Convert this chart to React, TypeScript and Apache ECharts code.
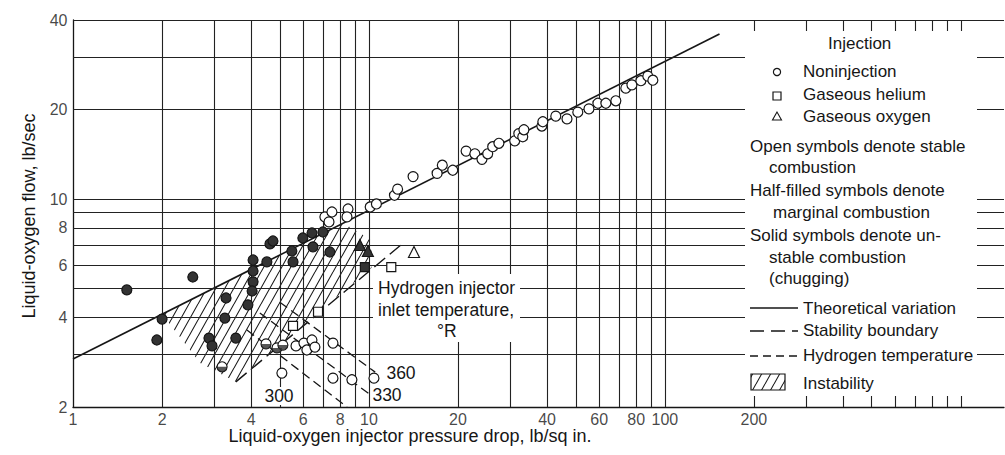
import React, { useEffect, useRef } from "react";
import * as echarts from "echarts";

// ---- axis / grid values ----
const xGridValues = [2, 3, 4, 5, 6, 7, 8, 9, 10, 20, 30, 40, 50, 60, 70, 80, 90, 100, 200, 300, 400, 500, 600, 700, 800, 900, 1000];
const yGridValues = [3, 4, 5, 6, 7, 8, 9, 10, 20, 30, 40];
const xTickLabels = [1, 2, 4, 6, 8, 10, 20, 40, 60, 80, 100, 200];
const yTickLabels = [2, 4, 6, 8, 10, 20, 40];

// ---- lines ----
const theoretical = [[1, 2.9], [153, 35.9]];
const stabilityBoundary = [[3.55, 2.43], [13.2, 7.18]];
const h2Temp300 = [[3.87, 3.63], [8.43, 2.0]];
const h2Temp330 = [[4.28, 4.14], [10.1, 2.2]];
const h2Temp360 = [[5.0, 4.5], [10.5, 2.62]];
const instabilityRegion = [[2.0, 4.1], [8.2, 8.3], [10.2, 7.29], [10.2, 5.87], [3.55, 2.43], [2.69, 2.81]];

// ---- data points ----
const nonInjOpen = [
  [3.19, 2.73], [4.49, 3.26], [4.89, 3.16], [5.12, 3.23], [5.08, 2.6], [5.67, 3.21], [6.03, 3.28],
  [6.17, 3.11], [6.42, 3.36], [6.57, 3.18], [7.56, 3.28], [7.56, 2.5], [8.76, 2.47], [10.4, 2.5],
  [7.1, 8.71], [7.5, 9.05], [7.33, 8.38], [8.5, 9.26], [8.43, 8.71],
  [10.1, 9.41], [10.6, 9.63], [12.2, 10.3], [12.5, 10.8], [14.1, 11.9], [17.0, 12.2], [17.7, 13.0],
  [19.2, 12.5], [21.3, 14.5], [22.8, 14.2], [24.1, 13.6], [25.2, 14.2], [26.2, 15.0], [27.5, 15.4],
  [31.1, 15.7], [32.1, 16.6], [33.1, 16.2], [33.4, 17.1], [38.4, 17.6], [38.7, 18.2], [42.8, 19.0],
  [46.7, 18.6], [50.8, 19.6], [55.4, 20.1], [59.4, 21.0], [63.2, 21.0], [68.3, 21.4], [73.8, 23.6],
  [77.4, 24.2], [83.0, 25.0], [87.6, 25.9], [91.1, 25.1],
];
const nonInjHalf = [[3.19, 2.73], [4.49, 3.26], [4.89, 3.16], [5.12, 3.23]];
const nonInjSolid = [
  [1.52, 4.95], [2.54, 5.47], [2.0, 3.95], [1.92, 3.36], [4.06, 6.24], [4.52, 6.15], [4.63, 7.07],
  [4.74, 7.23], [4.06, 5.73], [4.06, 5.27], [4.03, 4.91], [3.9, 4.41], [3.29, 4.65], [3.26, 3.98],
  [2.88, 3.41], [2.95, 3.21], [3.55, 3.41], [5.49, 6.69], [5.54, 6.15], [5.98, 7.4], [6.42, 7.69],
  [6.47, 6.91], [6.99, 7.75], [7.38, 6.64],
];
const heliumOpen = [[5.54, 3.75], [6.73, 4.18], [11.9, 5.91]];
const heliumSolid = [[9.69, 5.91]];
const oxygenOpen = [[14.2, 6.64]];
const oxygenSolid = [[9.32, 7.01], [9.92, 6.69]];

const FONT = "Liberation Sans";
const INK = "#161616";

const hatchSvg =
  "<svg xmlns='http://www.w3.org/2000/svg' width='9' height='16'><path d='M-9,16 L0,0 M0,16 L9,0 M9,16 L18,0' stroke='#1a1a1a' stroke-width='1.1'/></svg>";
const hatchPattern: any = {
  image: "data:image/svg+xml;charset=utf-8," + encodeURIComponent(hatchSvg),
  repeat: "repeat",
  imageWidth: 9,
  imageHeight: 16,
};

function lineSeries(data: number[][], dash: any, width = 1.3) {
  return {
    type: "line",
    data,
    symbol: "none",
    silent: true,
    z: 4,
    lineStyle: { color: INK, width, type: dash },
  };
}

function scatter(data: number[][], symbol: string, size: any, fill: string, z = 6, extra: any = {}) {
  return {
    type: "scatter",
    data,
    symbol,
    symbolSize: size,
    silent: true,
    clip: false,
    z,
    itemStyle: { color: fill, borderColor: INK, borderWidth: 1.2, opacity: 1 },
    ...extra,
  };
}

export default function App() {
  const ref = useRef<HTMLDivElement>(null);
  useEffect(() => {
    document.body.style.margin = "0";
    const chart = echarts.init(ref.current!, null, { renderer: "svg" });
    const txt = (text: string, x: number, y: number, size = 17, align = "left", extra: any = {}) => ({
      type: "text",
      z: 60,
      x,
      y,
      ...extra,
      style: {
        text,
        fill: INK,
        fontSize: size,
        fontFamily: FONT,
        textAlign: align,
        textVerticalAlign: "middle",
      },
    });
    const tickLabel = {
      show: true,
      color: INK,
      fontSize: 16,
      fontFamily: FONT,
    };
    const option: any = {
      animation: false,
      backgroundColor: "#fff",
      grid: { left: 73, top: 20, width: 931, height: 387 },
      xAxis: {
        type: "log",
        logBase: 10,
        min: 1,
        max: 1400,
        axisLine: { show: true, lineStyle: { color: INK, width: 1.3 } },
        axisTick: { show: false },
        axisLabel: { show: false },
        splitLine: { show: false },
      },
      yAxis: {
        type: "log",
        logBase: 10,
        min: 2,
        max: 40,
        axisLine: { show: true, lineStyle: { color: INK, width: 1.3 } },
        axisTick: { show: false },
        axisLabel: { show: false },
        splitLine: { show: false },
      },
      series: [
        {
          type: "line",
          data: [[1, 2]],
          symbol: "none",
          silent: true,
          z: 1,
          markLine: {
            silent: true,
            symbol: ["none", "none"],
            label: { show: false },
            lineStyle: { color: "#222", width: 1.1, type: "solid" },
            emphasis: { disabled: true },
            data: [
              ...xGridValues.map((v) => ({ xAxis: v })),
              ...yGridValues.map((v) => ({ yAxis: v })),
            ],
          },
        },
        {
          type: "custom",
          silent: true,
          clip: false,
          z: 2,
          data: [[2, 4]],
          renderItem: (_p: any, api: any) => ({
            type: "polygon",
            shape: { points: instabilityRegion.map((p) => api.coord(p)) },
            style: { fill: hatchPattern, stroke: "none" },
          }),
        },
        lineSeries(theoretical, "solid", 1.6),
        lineSeries(stabilityBoundary, [14, 6], 1.4),
        lineSeries(h2Temp300, [9, 5], 1.3),
        lineSeries(h2Temp330, [9, 5], 1.3),
        lineSeries(h2Temp360, [9, 5], 1.3),
        scatter(nonInjOpen, "circle", 10, "#fff"),
        scatter(nonInjHalf, "path://M0,0 A5,5 0 0 0 10,0 Z", [10, 5], "#2a2a2a", 7, {
          symbolOffset: [0, 2.5],
          itemStyle: { color: "#2a2a2a", borderWidth: 0 },
        }),
        scatter(nonInjSolid, "circle", 10, "#333"),
        scatter(heliumOpen, "rect", 9, "#fff"),
        scatter(heliumSolid, "rect", 9, "#333"),
        scatter(oxygenOpen, "triangle", 11, "#fff"),
        scatter(oxygenSolid, "triangle", 11, "#333"),
        {
          type: "scatter",
          data: xTickLabels.map((v) => [v, 2]),
          symbol: "circle",
          symbolSize: 1,
          clip: false,
          silent: true,
          itemStyle: { color: "rgba(0,0,0,0)" },
          label: { ...tickLabel, position: "bottom", distance: 4, formatter: (p: any) => String(p.value[0]) },
        },
        {
          type: "scatter",
          data: yTickLabels.map((v) => [1, v]),
          symbol: "circle",
          symbolSize: 1,
          clip: false,
          silent: true,
          itemStyle: { color: "rgba(0,0,0,0)" },
          label: { ...tickLabel, position: "left", distance: 5, formatter: (p: any) => String(p.value[1]) },
        },
      ],
      graphic: [
        // legend box
        { type: "rect", z: 50, shape: { x: 745, y: 31, width: 232, height: 365 }, style: { fill: "#fff" } },
        txt("Injection", 828, 43),
        { type: "circle", z: 60, shape: { cx: 777, cy: 72, r: 3.6 }, style: { fill: "#fff", stroke: INK, lineWidth: 1.2 } },
        txt("Noninjection", 803, 71),
        { type: "rect", z: 60, shape: { x: 773, y: 92, width: 8, height: 8 }, style: { fill: "#fff", stroke: INK, lineWidth: 1.2 } },
        txt("Gaseous helium", 803, 94),
        { type: "polygon", z: 60, shape: { points: [[777, 112], [772.5, 120], [781.5, 120]] }, style: { fill: "#fff", stroke: INK, lineWidth: 1.1 } },
        txt("Gaseous oxygen", 803, 116),
        txt("Open symbols denote stable", 750, 146),
        txt("combustion", 769, 167),
        txt("Half-filled symbols denote", 750, 190),
        txt("marginal combustion", 773, 212),
        txt("Solid symbols denote un-", 750, 235),
        txt("stable combustion", 769, 257),
        txt("(chugging)", 769, 278),
        { type: "line", z: 60, shape: { x1: 750, y1: 308, x2: 798, y2: 308 }, style: { stroke: INK, lineWidth: 1.4 } },
        txt("Theoretical variation", 803, 308),
        { type: "line", z: 60, shape: { x1: 750, y1: 331, x2: 798, y2: 331 }, style: { stroke: INK, lineWidth: 1.4, lineDash: [14, 7] } },
        txt("Stability boundary", 803, 330),
        { type: "line", z: 60, shape: { x1: 750, y1: 356, x2: 798, y2: 356 }, style: { stroke: INK, lineWidth: 1.3, lineDash: [8, 5] } },
        txt("Hydrogen temperature", 803, 355),
        { type: "rect", z: 60, shape: { x: 751, y: 374, width: 34, height: 16 }, style: { fill: hatchPattern, stroke: INK, lineWidth: 1.2 } },
        txt("Instability", 803, 383),
        // annotation
        { type: "rect", z: 50, shape: { x: 373, y: 274, width: 147, height: 68 }, style: { fill: "#fff" } },
        txt("Hydrogen injector", 378, 288, 17.5),
        txt("inlet temperature,", 378, 310, 17.5),
        txt("°R", 437, 331, 17.5),
        { type: "rect", z: 50, shape: { x: 265, y: 387, width: 28, height: 18 }, style: { fill: "#fff" } },
        txt("300", 279, 396, 17.5, "center"),
        txt("330", 387, 395, 17.5, "center"),
        txt("360", 401, 373, 17.5, "center"),
        // axis titles
        txt("Liquid-oxygen injector pressure drop, lb/sq in.", 410, 436, 18, "center"),
        txt("Liquid-oxygen flow, lb/sec", 29, 216, 18, "center", { rotation: Math.PI / 2 }),
      ],
    };
    chart.setOption(option);
    return () => chart.dispose();
  }, []);
  return <div ref={ref} style={{ position: "absolute", left: 0, top: 0, width: 1005, height: 455 }} />;
}
